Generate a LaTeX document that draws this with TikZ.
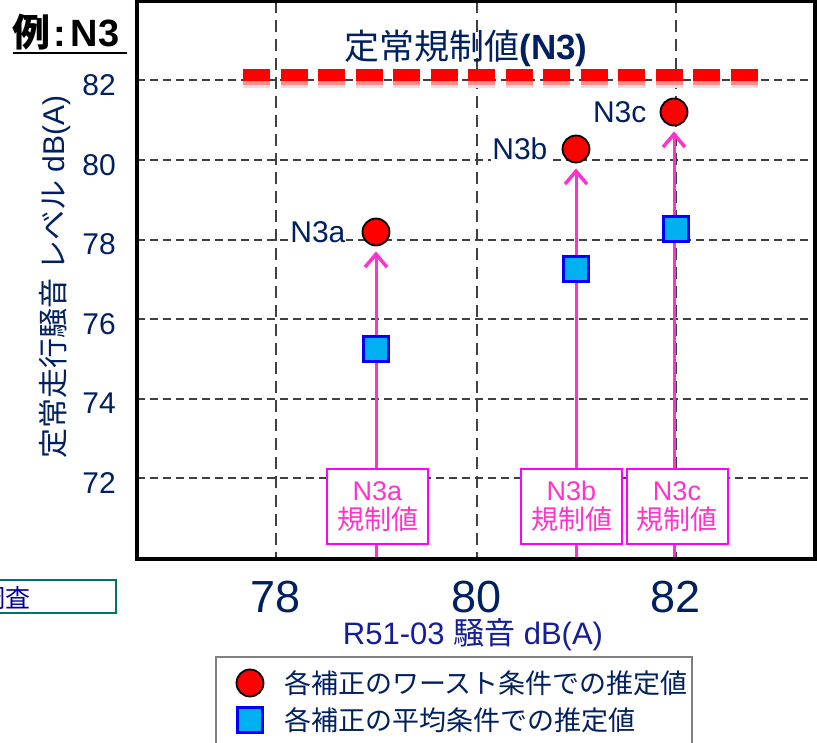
\documentclass[tikz,border=0pt]{standalone}
\usepackage{fontspec}
\setmainfont{Liberation Sans}
\newfontfamily\jp{Noto Sans CJK JP}
\usetikzlibrary{arrows.meta,positioning}
\definecolor{navy}{RGB}{0,32,96}
\definecolor{axblue}{RGB}{20,30,150}
\definecolor{pinkl}{RGB}{255,51,204}
\definecolor{magb}{RGB}{255,0,255}
\definecolor{sqfill}{RGB}{0,176,240}
\definecolor{sqdraw}{RGB}{0,0,255}
\definecolor{gridc}{RGB}{64,64,64}
\definecolor{tealc}{RGB}{0,112,112}
\definecolor{dblue}{RGB}{0,0,160}
\newcommand\fsz[1]{\fontsize{#1}{#1}\selectfont}
\tikzset{
  hgrid/.style={gridc, line width=2pt, dash pattern=on 8pt off 5pt},
  vgrid/.style={gridc, line width=2pt, dash pattern=on 12pt off 7pt},
  ptc/.style={circle, fill=red, draw=black, line width=1.8pt, minimum size=27pt, inner sep=0pt},
  sqn/.style={rectangle, fill=sqfill, draw=sqdraw, line width=2.6pt, minimum size=25pt, inner sep=0pt},
  arr/.style={pinkl, line width=3pt, -{Straight Barb[length=13pt,width=22pt,line width=3.5pt]}, shorten >=5pt},
  lbox/.style={draw=magb, fill=white, line width=2pt, minimum width=101pt, minimum height=75pt, inner sep=0pt, align=center, text=pinkl, font=\fsz{27pt}},
  ptlab/.style={text=navy, fill=white, inner sep=1pt, font=\fsz{30pt}},
  ytick/.style={text=navy, anchor=base east, inner sep=0pt, font=\fsz{30pt}},
  xtick/.style={text=navy, anchor=base, inner sep=0pt, font=\fsz{45pt}},
  legtxt/.style={text=navy, anchor=west, inner sep=0pt, font=\fsz{27pt}\jp},
}
\begin{document}
\begin{tikzpicture}[x=1pt,y=-1pt]
\useasboundingbox (0,0) rectangle (817,742);
\clip (0,0) rectangle (817,742);
\fill[white] (0,0) rectangle (817,742);
% grid
\foreach \gy in {80,160,239.6,319.2,398.8,478.4}
  \draw[hgrid] (137,\gy) -- (815,\gy);
\foreach \gx in {276,477,676}
  \draw[vgrid] (\gx,1) -- (\gx,559);
% regulation line
\draw[red!15, line width=4pt, dash pattern=on 27pt off 10.5pt] (243,86) -- (758,86);
\draw[red!45, line width=4pt, dash pattern=on 27pt off 10.5pt] (243,82.5) -- (758,82.5);
\draw[red, line width=12pt, dash pattern=on 27pt off 10.5pt] (243,75) -- (758,75);
\node[text=navy, inner sep=0pt] (title) at (466,48) {\fsz{35pt}{\jp 定常規制値}\textbf{(N3)}};
% data
\node[ptc] (ca) at (376,232) {};
\node[ptc] (cb) at (576,149) {};
\node[ptc] (cc) at (674,112) {};
\coordinate (ba) at (376,559);
\coordinate (bb) at (576,559);
\coordinate (bc) at (674,559);
\draw[arr] (ba) -- (ca);
\draw[arr] (bb) -- (cb);
\draw[arr] (bc) -- (cc);
\node[sqn] (sa) at (376,349) {};
\node[sqn] (sb) at (576,269) {};
\node[sqn] (sc) at (676,229) {};
\node[lbox] (la) at (377.5,506.5) {N3a\\[2pt]{\jp 規制値}};
\node[lbox] (lb) at (571.5,506.5) {N3b\\[2pt]{\jp 規制値}};
\node[lbox] (lc) at (677,506.5) {N3c\\[2pt]{\jp 規制値}};
\node[ptlab, left=15pt of ca] (na) {N3a};
\node[ptlab, left=13pt of cb] (nb) {N3b};
\node[ptlab, left=12pt of cc] (nc) {N3c};
% frame
\draw[black, line width=3.5pt] (137,1) rectangle (815,559);
% y ticks
\node[ytick] (y82) at (116,95) {82};
\node[ytick] (y80) at (116,175) {80};
\node[ytick] (y78) at (116,254.6) {78};
\node[ytick] (y76) at (116,334.2) {76};
\node[ytick] (y74) at (116,413.8) {74};
\node[ytick] (y72) at (116,493.4) {72};
% x ticks
\node[xtick] (x78) at (276,612) {78};
\node[xtick] (x80) at (477,612) {80};
\node[xtick] (x82) at (676,612) {82};
% axis titles
\node[text=navy, rotate=90, inner sep=0pt, font=\fsz{30pt}] (ytitle) at (55,277) {{\jp 定常走行騒音} {\jp レベル} dB(A)};
\node[text=axblue, inner sep=0pt, font=\fsz{31pt}] (xtitle) at (473,635) {R51-03 {\jp 騒音} dB(A)};
% example label
\node[anchor=base west, inner sep=0pt, font=\fsz{38pt}\bfseries] (ex) at (12,46) {{\jp 例}\kern3pt:\kern5pt N3};
\draw[black, line width=2pt] (13,52.5) -- (127,52.5);
% left fragment box
\node[draw=tealc, line width=2pt, minimum width=130pt, minimum height=33pt, inner sep=0pt] (frag) at (51,596.5) {};
\node[anchor=east, text=dblue, inner sep=0pt, font=\fsz{25pt}\jp] (fragt) at (31,598) {調査};
% legend
\node[draw=gray, line width=2pt, minimum width=476pt, minimum height=110pt, inner sep=0pt] (leg) at (454,712) {};
\node[ptc] (lgc) at (250,683) {};
\node[sqn] (lgs) at (250,720) {};
\node[legtxt] (lt1) at (284,683) {各補正のワースト条件での推定値};
\node[legtxt] (lt2) at (284,720) {各補正の平均条件での推定値};
\end{tikzpicture}
\end{document}
